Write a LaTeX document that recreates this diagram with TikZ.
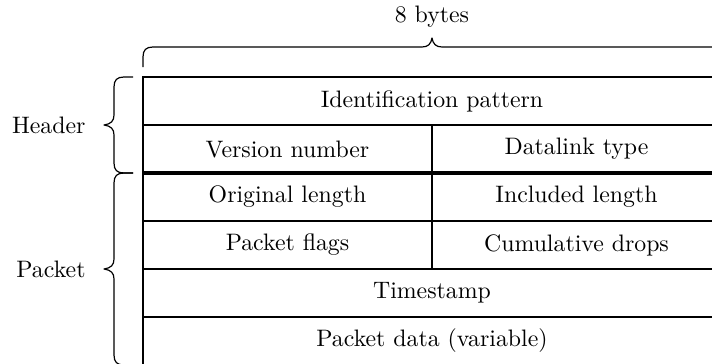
\documentclass[tikz,border=0pt]{standalone}
\usetikzlibrary{calc}
\begin{document}
\begin{tikzpicture}[x=0.42pt, y=-0.42pt,
  cell/.style={draw, line width=0.55pt, inner sep=0pt, outer sep=0pt,
               minimum height=20.16pt, font=\normalsize},
  half/.style={cell, minimum width=121.38pt},
  full/.style={cell, minimum width=242.76pt},
  sep line/.style={line width=1.4pt},
  curly/.style={line width=0.5pt, line join=round},
  label/.style={inner sep=0pt}]
\useasboundingbox (0,0) rectangle (712,363);
\clip (0,0) rectangle (712,363);

% header fields
\node[full] (ident) at (432,101) {Identification pattern};
\node[half] (ver)   at (287.5,149) {Version number};
\node[half] (dlt)   at (576.5,149) {Datalink type};
% per-packet fields
\node[half] (orig)  at (287.5,197) {Original length};
\node[half] (incl)  at (576.5,197) {Included length};
\node[half] (flags) at (287.5,245) {Packet flags};
\node[half] (drops) at (576.5,245) {Cumulative drops};
\node[full] (ts)    at (432,293) {Timestamp};
\node[full] (data)  at (432,341) {Packet data (variable)};

% boundary between header and packet records
\draw[sep line] (ver.south west) -- (dlt.south east);

% width brace above the table
\draw[curly] (143,67) -- (143,57) .. controls (143,50) and (146,47) .. (153,47)
  -- (422,47) .. controls (428,47) and (431,44) .. (432,38)
  .. controls (433,44) and (436,47) .. (442,47)
  -- (711,47) .. controls (718,47) and (721,50) .. (721,57) -- (721,67);
\node[label, anchor=base] (width) at (432,22) {8 bytes};

% header brace
\draw[curly] (133,77) -- (124,77) .. controls (117,77) and (114,80) .. (114,87)
  -- (114,115) .. controls (114,121) and (111,124) .. (104,125)
  .. controls (111,126) and (114,129) .. (114,135)
  -- (114,163) .. controls (114,170) and (117,173) .. (124,173) -- (133,173);
\node[label, anchor=east] (hdr) at (86,125) {Header};

% packet brace
\draw[curly] (133,173) -- (124,173) .. controls (117,173) and (114,176) .. (114,183)
  -- (114,259) .. controls (114,265) and (111,268) .. (104,269)
  .. controls (111,270) and (114,273) .. (114,279)
  -- (114,355) .. controls (114,362) and (117,365) .. (124,365) -- (133,365);
\node[label, anchor=east] (pkt) at (86,269) {Packet};
\end{tikzpicture}
\end{document}
